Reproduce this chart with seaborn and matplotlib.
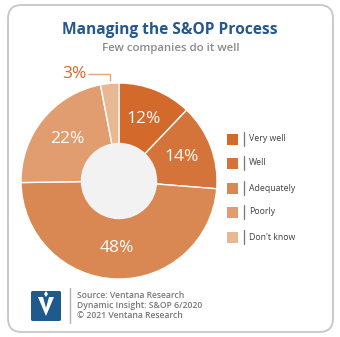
import matplotlib
matplotlib.use("Agg")
import matplotlib.pyplot as plt
from matplotlib.patches import FancyBboxPatch, Rectangle, Polygon
import numpy as np
import seaborn as sns

# Survey responses: how well organizations manage S&OP
categories = ["Very well", "Well", "Adequately", "Poorly", "Don't know"]
shares = [12, 14, 48, 22, 3]
slice_colors = ["#d4692c", "#d5743a", "#da8853", "#e19d70", "#e8b893"]

title = "Managing the S&OP Process"
subtitle = "Few companies do it well"
footer_lines = ["Source: Ventana Research",
                "Dynamic Insight: S&OP 6/2020",
                "\u00a9 2021 Ventana Research"]

sns.set_theme(style="white")
plt.rcParams["font.family"] = ["Open Sans", "DejaVu Sans"]

W, H = 340, 337
fig = plt.figure(figsize=(W / 100, H / 100), dpi=100)
fig.patch.set_facecolor("white")


def fx(px):
    return px / W


def fy(py):
    return 1 - py / H


# rounded card outline
card = FancyBboxPatch((fx(8), fy(332)), fx(325), (332 - 5) / H,
                      boxstyle="round,pad=0,rounding_size=0.04",
                      transform=fig.transFigure, facecolor="white",
                      edgecolor="#c6c6c6", linewidth=1.3, zorder=-5)
fig.patches.append(card)

fig.text(fx(170), fy(30), title, ha="center", va="center", fontsize=11.2,
         fontweight="bold", color="#24588e")
fig.text(fx(171), fy(49), subtitle, ha="center", va="center", fontsize=8.2,
         fontweight="semibold", color="#8a8a8a")

# donut chart
cx, cy, r = 119, 181, 98
ax = fig.add_axes([fx(cx - r), fy(cy + r), 2 * r / W, 2 * r / H])
ax.set_zorder(3)
ax.patch.set_alpha(0)
palette = sns.color_palette(slice_colors)
wedges, _ = ax.pie(shares, colors=palette, startangle=90, counterclock=False,
                   radius=1.0, wedgeprops=dict(edgecolor="white", linewidth=1.0))
ax.add_patch(plt.Circle((0, 0), 0.39, facecolor="#f2f2f2", edgecolor="none",
                        zorder=5))
ax.set_xlim(-1, 1)
ax.set_ylim(-1, 1)
ax.set_aspect("equal", adjustable="box")
ax.axis("off")

for w, val in zip(wedges, shares):
    mid = np.deg2rad((w.theta1 + w.theta2) / 2)
    if val >= 10:
        ax.text(0.68 * np.cos(mid), 0.68 * np.sin(mid), f"{val}%",
                ha="center", va="center", fontsize=12.5, color="white")
    else:
        ex, ey = np.cos(mid), np.sin(mid)
        ly = 1.09
        ax.plot([ex, ex, ex - 0.22], [ey + 0.03, ly, ly], color="#e3a47e",
                lw=1.0, clip_on=False, solid_capstyle="butt")
        ax.text(ex - 0.24, ly, f"{val}%", ha="right", va="center",
                fontsize=12.5, color="#d4692c", clip_on=False)

# legend
ys = [139, 163, 188, 212, 237]
for cat, col, yy in zip(categories, palette, ys):
    fig.patches.append(Rectangle((fx(227), fy(yy + 5.5)), fx(11), 11 / H,
                                 transform=fig.transFigure, facecolor=col,
                                 edgecolor="none"))
    fig.lines.append(plt.Line2D([fx(244), fx(244)], [fy(yy - 7), fy(yy + 7)],
                                transform=fig.transFigure, color="#777777",
                                lw=0.9))
    fig.text(fx(249), fy(yy), cat, ha="left", va="center", fontsize=6.3,
             color="#404040")

# footer logo
fig.patches.append(FancyBboxPatch((fx(31), fy(321)), fx(30), 30 / H,
                                  boxstyle="round,pad=0,rounding_size=0.005",
                                  transform=fig.transFigure,
                                  facecolor="#1f5a8c", edgecolor="none"))
vshape = [(38, 297), (43, 297), (46, 308), (49, 297), (54, 297), (46, 316)]
fig.patches.append(Polygon([(fx(x), fy(y)) for x, y in vshape], closed=True,
                           transform=fig.transFigure, facecolor="white",
                           edgecolor="none"))
diamond = [(46, 291), (48, 294), (46, 297), (44, 294)]
fig.patches.append(Polygon([(fx(x), fy(y)) for x, y in diamond], closed=True,
                           transform=fig.transFigure, facecolor="white",
                           edgecolor="none"))
fig.lines.append(plt.Line2D([fx(70), fx(70)], [fy(288), fy(323)],
                            transform=fig.transFigure, color="#b0b0b0", lw=1.0))
for i, line in enumerate(footer_lines):
    fig.text(fx(77), fy(296 + 10 * i), line, ha="left", va="center",
             fontsize=6.2, fontweight="semibold", color="#777777")

fig.savefig("out.png", dpi=100, facecolor="white")
